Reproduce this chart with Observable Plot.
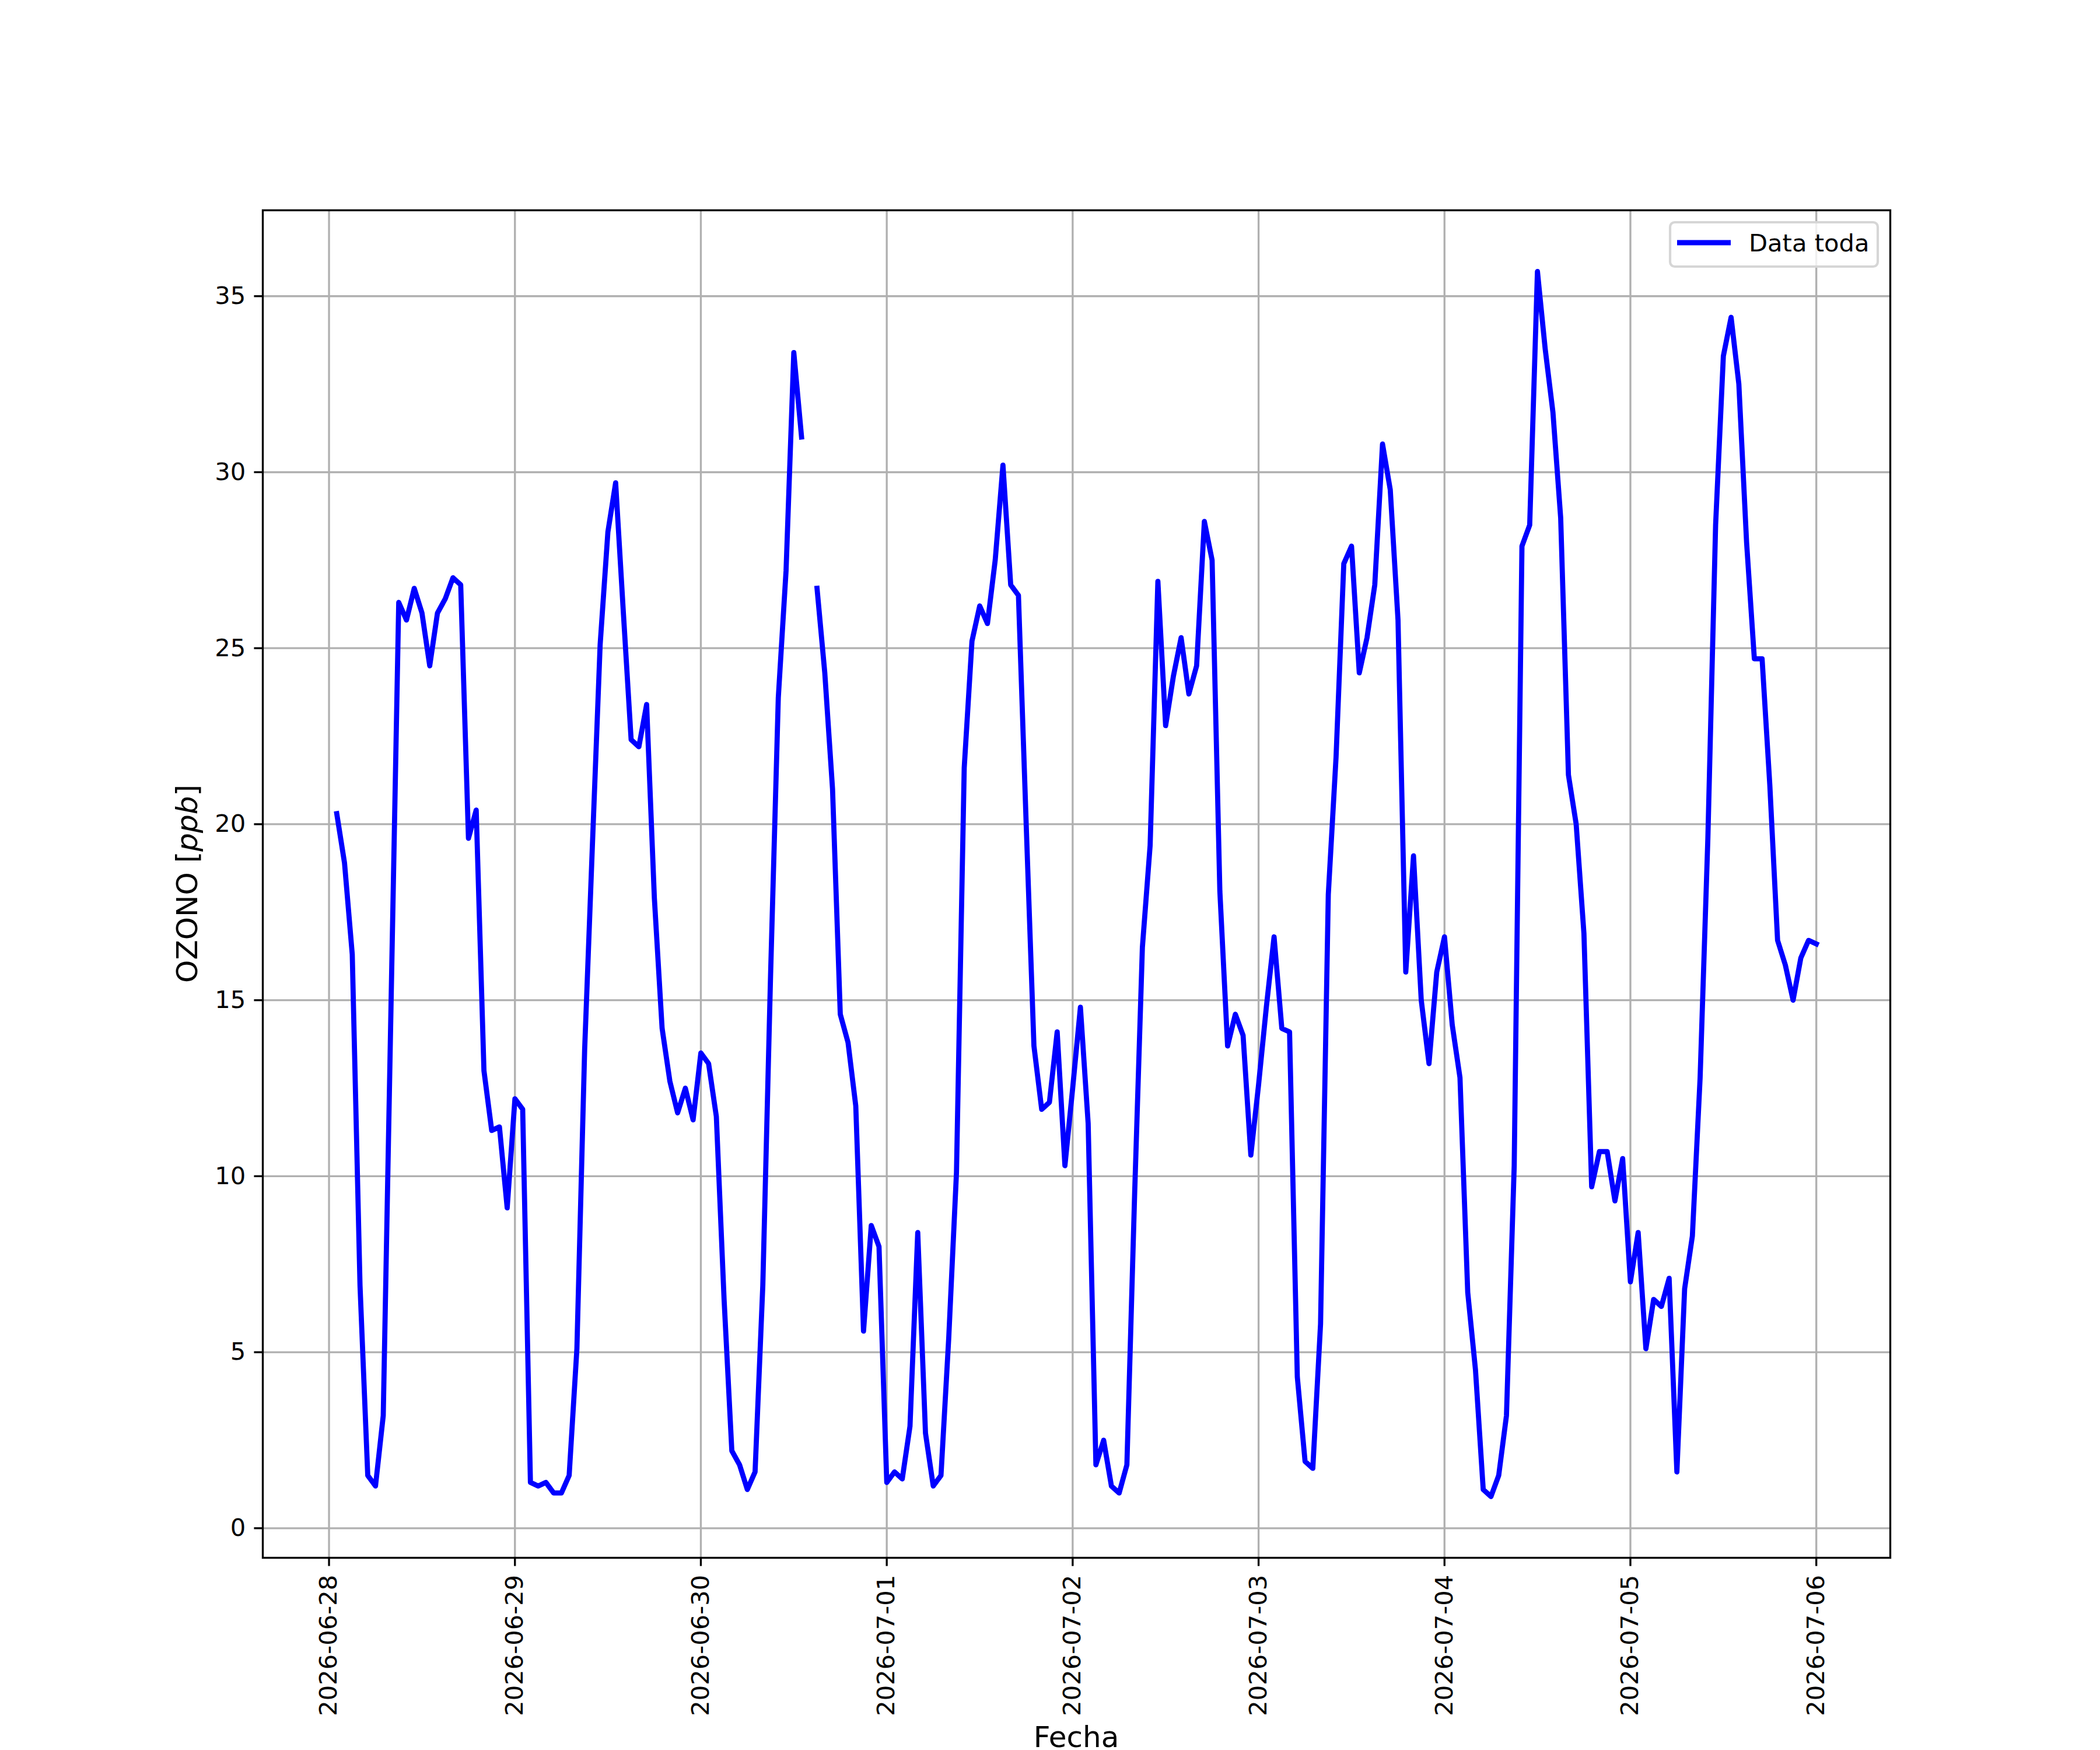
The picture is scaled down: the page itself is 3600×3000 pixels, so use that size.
<!DOCTYPE html>
<html>
<head>
<meta charset="utf-8">
<script src="https://cdn.jsdelivr.net/npm/d3@7"></script>
<script src="https://cdn.jsdelivr.net/npm/@observablehq/plot@0.6"></script>
<style>
  html, body { margin: 0; padding: 0; background: white; }
  #chart { width: 3600px; height: 3000px; }
</style>
</head>
<body>
<div id="chart"></div>
<script>
// Hourly ozone values (ppb), first value at 2026-06-28 01:00 UTC
const startTime = "2026-06-28T01:00:00Z";
const ozone_0628 = [20.3, 18.9, 16.3, 6.9, 1.5, 1.2, 3.2, 14.8, 26.3, 25.8, 26.7, 26.0, 24.5, 26.0, 26.4, 27.0, 26.8, 19.6, 20.4, 13.0, 11.3, 11.4, 9.1, 12.2];
const ozone_0629 = [11.9, 1.3, 1.2, 1.3, 1.0, 1.0, 1.5, 5.1, 13.6, 19.4, 25.1, 28.3, 29.7, 26.0, 22.4, 22.2, 23.4, 17.9, 14.2, 12.7, 11.8, 12.5, 11.6, 13.5];
const ozone_0630 = [13.2, 11.7, 6.5, 2.2, 1.8, 1.1, 1.6, 6.9, 15.7, 23.6, 27.2, 33.4, 31.0, null, 26.7, 24.3, 21.0, 14.6, 13.8, 12.0, 5.6, 8.6, 8.0, 1.3];
const ozone_0701 = [1.6, 1.4, 2.9, 8.4, 2.7, 1.2, 1.5, 5.4, 10.1, 21.6, 25.2, 26.2, 25.7, 27.5, 30.2, 26.8, 26.5, 20.0, 13.7, 11.9, 12.1, 14.1, 10.3, 12.5];
const ozone_0702 = [14.8, 11.5, 1.8, 2.5, 1.2, 1.0, 1.8, 9.5, 16.5, 19.4, 26.9, 22.8, 24.2, 25.3, 23.7, 24.5, 28.6, 27.5, 18.1, 13.7, 14.6, 14.0, 10.6, 12.6];
const ozone_0703 = [14.8, 16.8, 14.2, 14.1, 4.3, 1.9, 1.7, 5.8, 18.0, 21.9, 27.4, 27.9, 24.3, 25.3, 26.8, 30.8, 29.5, 25.8, 15.8, 19.1, 15.0, 13.2, 15.8, 16.8];
const ozone_0704 = [14.3, 12.8, 6.7, 4.5, 1.1, 0.9, 1.5, 3.2, 10.3, 27.9, 28.5, 35.7, 33.5, 31.7, 28.7, 21.4, 20.0, 16.9, 9.7, 10.7, 10.7, 9.3, 10.5, 7.0];
const ozone_0705 = [8.4, 5.1, 6.5, 6.3, 7.1, 1.6, 6.8, 8.3, 12.8, 19.6, 28.5, 33.3, 34.4, 32.5, 28.0, 24.7, 24.7, 21.1, 16.7, 16.0, 15.0, 16.2, 16.7, 16.6];

const xTickLabels = ["2026-06-28","2026-06-29","2026-06-30","2026-07-01","2026-07-02","2026-07-03","2026-07-04","2026-07-05","2026-07-06"];
const yTicks = [0, 5, 10, 15, 20, 25, 30, 35];
const seriesName = "Data toda";
const xLabel = "Fecha";

// Build table
const allValues = [].concat(ozone_0628, ozone_0629, ozone_0630, ozone_0701, ozone_0702, ozone_0703, ozone_0704, ozone_0705);
const t0 = new Date(startTime);
const data = allValues.map((v, i) => ({
  date: d3.utcHour.offset(t0, i),
  value: v == null ? NaN : v
}));

const xTicks = xTickLabels.map(s => new Date(s + "T00:00:00Z"));

// matplotlib-style 5% margins
const tMin = data[0].date, tMax = data[data.length - 1].date;
const span = tMax - tMin;
const xDomain = [new Date(+tMin - 0.05 * span), new Date(+tMax + 0.05 * span)];
const valid = allValues.filter(v => v != null);
const vMin = d3.min(valid), vMax = d3.max(valid);
const vr = vMax - vMin;
const yDomain = [vMin - 0.05 * vr, vMax + 0.05 * vr];

const PT = 300 / 72;           // px per point at 300 dpi
const FS = 10 * PT;            // tick / legend font
const FS_LABEL = 12 * PT;      // axis label font
const LW_AX = 0.8 * PT;
const LW_LINE = 8.8;
const TICK = 3.5 * PT;

const W = 3600, H = 3000;
const mL = 450, mR = 360, mT = 360, mB = 330;

const chart = Plot.plot({
  width: W,
  height: H,
  marginLeft: mL,
  marginRight: mR,
  marginTop: mT,
  marginBottom: mB,
  style: {
    fontFamily: "'DejaVu Sans', sans-serif",
    fontSize: FS + "px",
    color: "black",
    background: "white",
    overflow: "visible"
  },
  x: { type: "utc", domain: xDomain },
  y: { domain: yDomain },
  marks: [
    Plot.gridX({ ticks: xTicks, stroke: "#b0b0b0", strokeOpacity: 1, strokeWidth: LW_AX }),
    Plot.gridY({ ticks: yTicks, stroke: "#b0b0b0", strokeOpacity: 1, strokeWidth: LW_AX }),
    Plot.line(data, { x: "date", y: "value", stroke: "#0000ff", strokeWidth: LW_LINE, strokeLinejoin: "round", strokeLinecap: "square" }),
    Plot.frame({ stroke: "black", strokeWidth: LW_AX }),
    Plot.axisX({
      ticks: xTicks,
      tickFormat: d3.utcFormat("%Y-%m-%d"),
      tickRotate: -90,
      tickSize: TICK,
      tickPadding: TICK,
      strokeWidth: LW_AX,
      fontSize: FS,
      label: null
    }),
    Plot.axisY({
      ticks: yTicks,
      tickSize: TICK,
      tickPadding: TICK,
      strokeWidth: LW_AX,
      fontSize: FS,
      label: null
    })
  ]
});

document.getElementById("chart").appendChild(chart);

// Axis labels and legend
const svg = d3.select(chart);
const plotRight = W - mR;
const plotCenterX = (mL + plotRight) / 2;
const plotCenterY = (mT + (H - mB)) / 2;

svg.append("text")
  .attr("x", plotCenterX)
  .attr("y", 2995)
  .attr("text-anchor", "middle")
  .attr("font-size", FS_LABEL)
  .attr("fill", "black")
  .text(xLabel);

const yl = svg.append("text")
  .attr("transform", `translate(338,${plotCenterY}) rotate(-90)`)
  .attr("text-anchor", "middle")
  .attr("font-size", FS_LABEL)
  .attr("fill", "black");
yl.append("tspan").text("OZONO [");
yl.append("tspan").attr("font-style", "italic").text("ppb");
yl.append("tspan").text("]");

const lg = svg.append("g");
lg.append("rect")
  .attr("x", plotRight - 377).attr("y", mT + 21)
  .attr("width", 356).attr("height", 76)
  .attr("rx", 8).attr("ry", 8)
  .attr("fill", "white").attr("fill-opacity", 0.8)
  .attr("stroke", "#d6d6d6").attr("stroke-width", 1.0 * PT);
lg.append("line")
  .attr("x1", plotRight - 365).attr("x2", plotRight - 273)
  .attr("y1", mT + 56).attr("y2", mT + 56)
  .attr("stroke", "#0000ff").attr("stroke-width", LW_LINE);
lg.append("text")
  .attr("x", plotRight - 242).attr("y", mT + 71)
  .attr("text-anchor", "start")
  .attr("font-size", FS).attr("fill", "black")
  .text(seriesName);
</script>
</body>
</html>
